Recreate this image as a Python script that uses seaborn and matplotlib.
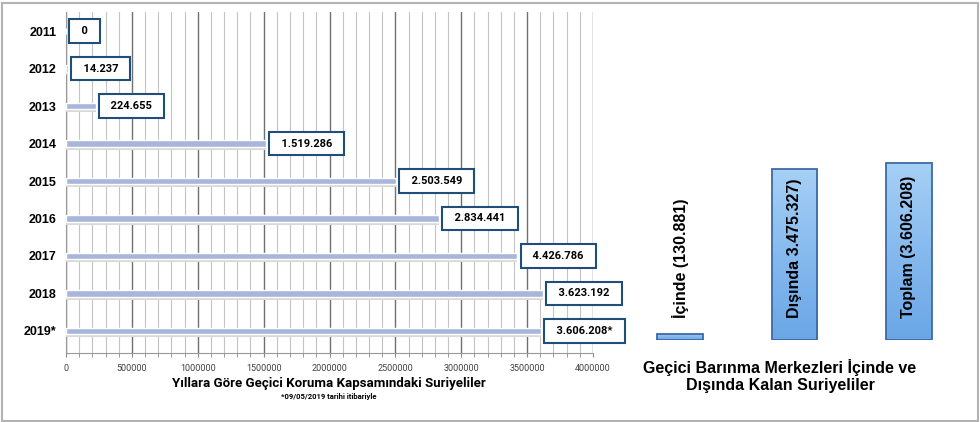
import matplotlib
matplotlib.use('Agg')
import matplotlib.pyplot as plt
import matplotlib.patheffects as pe
from matplotlib.patches import Rectangle
from matplotlib.colors import LinearSegmentedColormap
from matplotlib.ticker import MultipleLocator
import numpy as np
import seaborn as sns

# data
years = ['2011', '2012', '2013', '2014', '2015', '2016', '2017', '2018', '2019*']
counts = [0, 14237, 224655, 1519286, 2503549, 2834441, 3426786, 3623192, 3606208]
count_labels = ['0', '14.237', '224.655', '1.519.286', '2.503.549', '2.834.441',
                '4.426.786', '3.623.192', '3.606.208*']
x_ticks = [0, 500000, 1000000, 1500000, 2000000, 2500000, 3000000, 3500000, 4000000]

camp_groups = ['İçinde (130.881)', 'Dışında 3.475.327)', 'Toplam (3.606.208)']
camp_counts = [130881, 3475327, 3606208]

sns.set_style('white')
plt.rcParams['font.family'] = ['Liberation Sans', 'DejaVu Sans']
plt.rcParams['text.color'] = 'black'
plt.rcParams['ytick.labelcolor'] = 'black'
small_font = ['Roboto', 'DejaVu Sans']

W, H = 980, 422
fig = plt.figure(figsize=(W / 100, H / 100), dpi=100)


def place(l, t, r, b):
    return [l / W, 1 - b / H, (r - l) / W, (b - t) / H]


ax1 = fig.add_axes(place(66, 12, 593, 353))
ax2 = fig.add_axes(place(623, 140, 966, 340))

# left: yearly horizontal bars
sns.barplot(x=counts, y=years, orient='h', ax=ax1, color='#a7b6da',
            saturation=1, width=0.18, zorder=3)
for p in ax1.patches:
    p.set_path_effects([pe.SimplePatchShadow(offset=(0, -2.2), shadow_rgbFace='#d9d9d9', alpha=1),
                        pe.Normal()])

for p, lab in zip(ax1.patches, count_labels):
    ax1.annotate(f'  {lab}  ', xy=(p.get_width(), p.get_y() + p.get_height() / 2),
                 xytext=(7, 0), textcoords='offset points', ha='left', va='center',
                 fontsize=8, fontweight='bold', family=small_font, zorder=5,
                 bbox=dict(boxstyle='square,pad=0.6', fc='white', ec='#1f4e79', lw=1.5))

ax1.set_xlim(0, 4000000)
ax1.set_ylim(8.59, -0.51)
ax1.set_xticks(x_ticks)
ax1.set_xticklabels([str(t) for t in x_ticks], fontsize=6.5, color='#404040',
                    family=small_font)
ax1.xaxis.set_minor_locator(MultipleLocator(100000))
ax1.grid(axis='x', which='major', color='#707070', lw=1.0, zorder=0)
ax1.grid(axis='x', which='minor', color='#c4c4c4', lw=0.8, zorder=0)
ax1.tick_params(axis='x', which='both', bottom=True, length=3, color='#888888', pad=5)
ax1.tick_params(axis='y', length=0, pad=7, labelsize=9, labelcolor='black')
for t in ax1.get_yticklabels():
    t.set_fontweight('bold')
for s in ['top', 'right']:
    ax1.spines[s].set_visible(False)
for s in ['left', 'bottom']:
    ax1.spines[s].set_color('#999999')
ax1.set_xlabel('')
ax1.set_ylabel('')

fig.text(329 / W, 1 - 383 / H, 'Yıllara Göre Geçici Koruma Kapsamındaki Suriyeliler',
         ha='center', va='center', fontsize=9.5, fontweight='bold', family=small_font)
fig.text(329 / W, 1 - 396 / H, '*09/05/2019 tarihi itibariyle',
         ha='center', va='center', fontsize=5.5, fontweight='bold', family=small_font)

# right: inside / outside camps
sns.barplot(x=camp_groups, y=camp_counts, ax=ax2, color='#7fb3ea', saturation=1,
            width=0.4, zorder=2)
grad = np.linspace(0, 1, 256).reshape(-1, 1)
cmap = LinearSegmentedColormap.from_list('bars', ['#6aa6e6', '#86baee', '#a6d0f6'])
for p in ax2.patches:
    x0, y0, w, h = p.get_x(), p.get_y(), p.get_width(), p.get_height()
    im = ax2.imshow(grad, extent=[x0, x0 + w, y0, y0 + h], origin='lower', cmap=cmap,
                    aspect='auto', zorder=1)
    im.set_clip_path(p)
    p.set_facecolor('none')
    p.set_edgecolor('#3d6aa3')
    p.set_linewidth(1.3)
    p.set_zorder(3)

for p, lab in zip(ax2.patches, camp_groups):
    ax2.annotate(lab, xy=(p.get_x() + p.get_width() / 2, 0), xytext=(0, 16),
                 textcoords='offset points', rotation=90, ha='center', va='bottom',
                 fontsize=11.5, fontweight='bold', color='black', zorder=5)

ax2.set_xlim(-0.5, 2.5)
ax2.set_ylim(0, 4070000)
ax2.axis('off')

fig.text(780 / W, 1 - 376 / H, 'Geçici Barınma Merkezleri İçinde ve\nDışında Kalan Suriyeliler',
         ha='center', va='center', fontsize=11.5, fontweight='bold', color='black',
         linespacing=1.1)

# outer frame
fig.add_artist(Rectangle((2 / W, 1 / H), 976 / W, 418 / H, transform=fig.transFigure,
                         fill=False, ec='#b3b3b3', lw=1.5))

fig.savefig('out.png', dpi=100)
